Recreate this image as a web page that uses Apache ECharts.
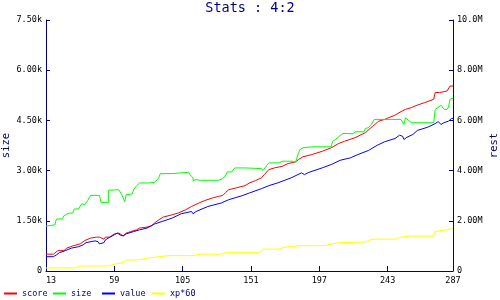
<!DOCTYPE html>
<html>
<head>
<meta charset="utf-8">
<script src="https://cdn.jsdelivr.net/npm/echarts@6/dist/echarts.min.js"></script>
<style>html,body{margin:0;padding:0;background:#fff}#c{width:500px;height:300px}</style>
</head>
<body>
<div id="c"></div>
<script>
// x ticks
var xTicks = [13, 59, 105, 151, 197, 243, 287];
var leftTickLabels = ['0', '1.50k', '3.00k', '4.50k', '6.00k', '7.50k'];
var rightTickLabels = ['0', '2.00M', '4.00M', '6.00M', '8.00M', '10.0M'];
var seriesNames = ['score', 'size', 'value', 'xp*60'];

// score (rest axis, millions)
var scoreData = [[13,0.67],[18,0.67],[19,0.73],[21,0.81],[25,0.81],[27,0.91],[31,1.0],[36,1.08],[39,1.21],[43,1.31],[47,1.35],[49,1.35],[52,1.27],[53,1.35],[56,1.35],[59,1.48],[62,1.51],[63,1.44],[65,1.40],[67,1.51],[70,1.57],[74,1.64],[76,1.71],[81,1.75],[84,1.80],[86,1.91],[89,2.04],[92,2.15],[98,2.24],[102,2.31],[107,2.44],[111,2.57],[116,2.71],[120,2.81],[125,2.91],[129,2.97],[132,3.01],[134,3.13],[136,3.24],[141,3.31],[147,3.40],[150,3.51],[154,3.60],[158,3.71],[160,3.84],[163,4.04],[167,4.11],[172,4.17],[176,4.28],[181,4.35],[183,4.44],[186,4.55],[192,4.64],[199,4.77],[205,4.91],[210,5.08],[214,5.17],[221,5.31],[228,5.51],[233,5.77],[237,5.97],[241,6.04],[248,6.21],[252,6.35],[255,6.44],[259,6.51],[263,6.61],[268,6.71],[274,6.84],[275,7.11],[278,7.11],[283,7.17],[285,7.37],[287,7.37]];

// size (size axis)
var sizeData = [[13,1340],[19,1380],[20,1550],[24,1560],[25,1650],[27,1700],[29,1730],[31,1730],[32,1850],[35,1860],[37,2010],[39,1980],[41,2100],[43,2260],[49,2260],[50,2050],[55,2050],[55,2410],[56,2430],[62,2430],[63,2400],[64,2280],[66,2070],[67,2280],[71,2300],[72,2430],[74,2550],[76,2630],[82,2630],[86,2650],[88,2730],[89,2800],[90,2910],[98,2910],[99,2960],[109,2950],[110,2880],[112,2780],[112,2700],[114,2730],[115,2680],[117,2710],[129,2710],[130,2760],[132,2760],[134,2860],[135,2960],[138,2960],[138,3010],[140,3080],[147,3080],[148,3050],[158,3060],[159,3000],[160,3030],[163,3230],[170,3230],[172,3280],[175,3280],[176,3250],[179,3280],[181,3250],[182,3300],[183,3530],[184,3630],[186,3680],[192,3710],[205,3710],[206,3880],[208,3930],[210,4010],[213,4110],[220,4100],[221,4160],[227,4160],[228,4260],[230,4280],[232,4380],[234,4530],[252,4530],[253,4450],[254,4380],[255,4580],[256,4600],[257,4500],[259,4430],[274,4430],[275,4830],[276,4880],[279,4950],[280,4900],[281,4830],[283,4830],[284,4900],[285,5130],[287,5160]];

// value (rest axis, millions)
var valueData = [[13,0.57],[18,0.57],[20,0.64],[22,0.73],[26,0.81],[30,0.91],[35,0.97],[38,1.04],[40,1.13],[46,1.20],[48,1.17],[49,1.08],[52,1.13],[53,1.24],[56,1.35],[59,1.44],[61,1.51],[63,1.43],[65,1.40],[67,1.48],[72,1.57],[76,1.64],[81,1.71],[86,1.87],[91,1.97],[98,2.11],[104,2.28],[111,2.37],[112,2.28],[114,2.37],[122,2.57],[131,2.71],[136,2.84],[145,3.0],[150,3.11],[151,3.17],[158,3.28],[163,3.40],[169,3.51],[178,3.71],[185,3.91],[187,3.84],[190,3.93],[199,4.11],[205,4.24],[211,4.41],[218,4.51],[223,4.64],[230,4.80],[236,5.01],[241,5.15],[248,5.28],[251,5.41],[253,5.37],[254,5.24],[256,5.33],[260,5.44],[263,5.60],[270,5.73],[275,5.87],[277,5.95],[279,5.84],[281,5.91],[284,5.97],[286,6.08],[287,6.08]];

// xp*60 (rest axis, millions)
var xpData = [[13,0.12],[32,0.12],[33,0.16],[37,0.20],[55,0.20],[57,0.24],[60,0.28],[64,0.33],[67,0.44],[75,0.44],[81,0.51],[89,0.57],[95,0.61],[111,0.61],[112,0.64],[117,0.67],[131,0.67],[134,0.73],[157,0.73],[159,0.87],[169,0.87],[174,0.95],[185,1.01],[201,1.01],[202,1.08],[210,1.13],[228,1.15],[230,1.21],[233,1.27],[249,1.27],[251,1.33],[256,1.39],[274,1.39],[275,1.57],[278,1.60],[283,1.64],[286,1.68],[287,1.69]];

var colors = ['#ff0000', '#00ff00', '#0000ff', '#ffff00'];
var navy = '#000080';
var mono = 'DejaVu Sans Mono';

var chart = echarts.init(document.getElementById('c'), null, {renderer: 'canvas'});

function lineSeries(name, data, yIdx, color) {
  return {
    name: name, type: 'line', data: data, yAxisIndex: yIdx,
    showSymbol: false, symbol: 'none',
    lineStyle: {color: color, width: 1},
    itemStyle: {color: color},
    animation: false
  };
}

var legendLefts = [4, 53, 102, 152];
var legends = seriesNames.map(function (n, i) {
  return {
    data: [n], left: legendLefts[i], top: 289, padding: 0,
    icon: 'rect', itemWidth: 13, itemHeight: 2,
    textStyle: {color: navy, fontFamily: mono, fontSize: 8.5},
    selectedMode: false
  };
});

chart.setOption({
  animation: false,
  title: {
    text: 'Stats : 4:2', left: 'center', top: 1, padding: 0,
    textStyle: {color: navy, fontFamily: mono, fontSize: 13.5, fontWeight: 'normal'}
  },
  legend: legends,
  grid: {left: 46, right: 47, top: 20, bottom: 29, containLabel: false, outerBoundsMode: 'none'},
  xAxis: {
    type: 'value', min: 13, max: 287,
    axisLine: {show: true, lineStyle: {color: navy, width: 1}},
    axisTick: {show: true, inside: true, length: 5, customValues: xTicks, lineStyle: {color: navy}},
    axisLabel: {customValues: xTicks, color: '#000', fontFamily: mono, fontSize: 8.5, margin: 5, alignMinLabel: 'left'},
    splitLine: {show: false}
  },
  yAxis: [{
    type: 'value', min: 0, max: 7500, interval: 1500, position: 'left',
    name: 'size', nameLocation: 'middle', nameRotate: 90, nameGap: 34, nameMoveOverlap: false,
    nameTextStyle: {color: navy, fontFamily: mono, fontSize: 10.5},
    axisLine: {show: true, lineStyle: {color: navy, width: 1}},
    axisTick: {show: true, inside: true, length: 4, lineStyle: {color: navy}},
    axisLabel: {color: '#000', fontFamily: mono, fontSize: 8.5, margin: 4,
      formatter: function (v) { return leftTickLabels[Math.round(v / 1500)]; }},
    splitLine: {show: false}
  }, {
    type: 'value', min: 0, max: 10, interval: 2, position: 'right',
    name: 'rest', nameLocation: 'middle', nameRotate: 90, nameGap: 36, nameMoveOverlap: false,
    nameTextStyle: {color: navy, fontFamily: mono, fontSize: 10.5},
    axisLine: {show: true, lineStyle: {color: navy, width: 1}},
    axisTick: {show: true, inside: true, length: 4, lineStyle: {color: navy}},
    axisLabel: {color: '#000', fontFamily: mono, fontSize: 8.5, margin: 4,
      formatter: function (v) { return rightTickLabels[Math.round(v / 2)]; }},
    splitLine: {show: false}
  }],
  series: [
    lineSeries('score', scoreData, 1, colors[0]),
    lineSeries('size', sizeData, 0, colors[1]),
    lineSeries('value', valueData, 1, colors[2]),
    lineSeries('xp*60', xpData, 1, colors[3])
  ]
});
</script>
</body>
</html>
